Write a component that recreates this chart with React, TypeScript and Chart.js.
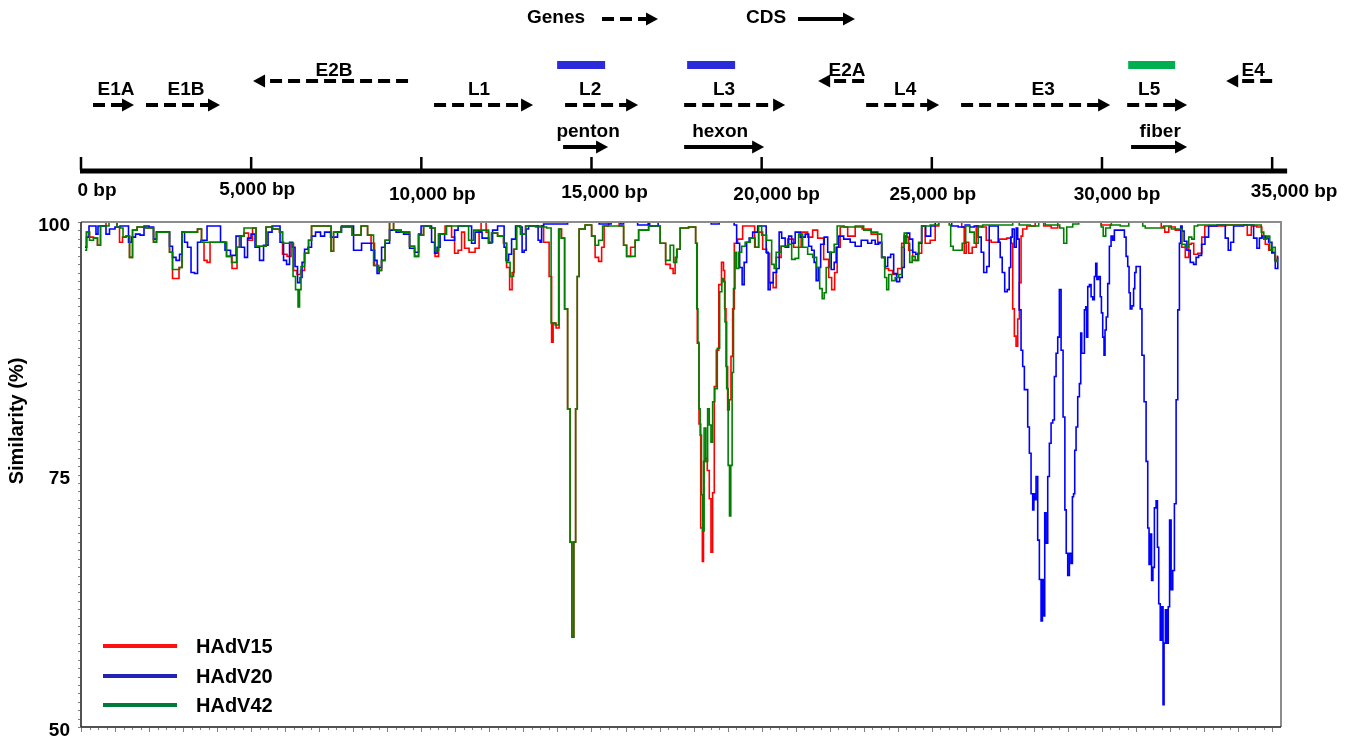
import React, { useEffect, useRef } from 'react';
import { Chart, registerables } from 'chart.js';

Chart.register(...registerables);

// ---------- data (window position in bp, similarity %) ----------
const hadv15: [number, number][] = [
  [118, 97.5], [206, 99.0], [294, 98.5], [441, 98.4], [529, 97.7], [617, 99.6], [852, 100], [1029, 100],
  [1087, 99.5], [1176, 98.0], [1264, 98.5], [1381, 98.6], [1470, 96.5], [1558, 99.2], [1734, 99.5], [2087, 99.4],
  [2175, 98.0], [2263, 99.0], [2557, 99.0], [2645, 97.0], [2733, 94.4], [2821, 94.4], [2939, 95.5], [2998, 99.0],
  [3350, 99.0], [3497, 99.3], [3586, 98.0], [3644, 96.2], [3762, 96.0], [3821, 98.0], [4232, 98.0], [4320, 96.6],
  [4555, 95.4], [4614, 97.5], [4702, 98.6], [4879, 98.9], [4967, 98.2], [5114, 99.4], [5173, 97.6], [5408, 97.6],
  [5467, 99.5], [5790, 99.3], [5878, 99.0], [5966, 96.8], [6143, 96.6], [6201, 97.9], [6289, 95.2], [6407, 94.8],
  [6495, 95.2], [6642, 96.9], [6730, 98.2], [6818, 99.6], [7318, 99.6], [7377, 97.1], [7465, 99.0], [7818, 99.5],
  [8112, 98.7], [8347, 99.6], [8494, 98.7], [8552, 97.9], [8699, 95.7], [8788, 95.2], [8876, 96.2], [8993, 98.2],
  [9140, 100], [9228, 99.2], [9581, 99.0], [9728, 97.6], [9875, 96.6], [9963, 98.7], [10169, 99.6], [10345, 99.4],
  [10463, 96.6], [10551, 98.8], [10845, 99.6], [10933, 98.5], [11021, 96.9], [11139, 97.2], [11227, 99.0], [11315, 97.4],
  [11491, 97.0], [11668, 97.4], [11727, 99.0], [11785, 100], [11874, 100], [11932, 99.0], [12021, 97.9], [12109, 98.9],
  [12373, 98.6], [12461, 97.9], [12550, 95.5], [12638, 93.3], [12696, 95.0], [12755, 97.3], [12843, 99.6], [12990, 98.8],
  [13137, 99.6], [13490, 99.6], [13696, 98.0], [13813, 94.6], [13843, 88.1], [13901, 90.0], [14019, 89.5], [14078, 99.3],
  [14166, 98.4], [14254, 91.4], [14342, 81.5], [14401, 68.3], [14451, 58.9], [14510, 68.3], [14557, 81.5], [14607, 94.6],
  [14666, 99.3], [14960, 99.7], [15048, 98.6], [15165, 96.5], [15253, 96.1], [15342, 97.5], [15400, 99.6], [15606, 100],
  [15724, 100], [15900, 99.6], [15988, 97.7], [16076, 96.6], [16223, 97.5], [16341, 98.2], [16429, 99.2], [16929, 99.6],
  [17105, 97.9], [17252, 95.8], [17369, 95.4], [17428, 94.9], [17487, 96.5], [17546, 97.3], [17663, 99.4], [18045, 99.5],
  [18075, 97.9], [18142, 88.0], [18177, 80.0], [18242, 69.7], [18272, 66.4], [18310, 76.3], [18369, 76.6], [18436, 75.4],
  [18486, 72.6], [18536, 67.3], [18583, 73.2], [18633, 83.7], [18701, 87.3], [18780, 93.8], [18859, 96.0], [18898, 95.2],
  [18927, 91.4], [18977, 85.7], [19024, 81.4], [19074, 82.4], [19124, 86.7], [19171, 91.4], [19221, 97.9], [19368, 98.3],
  [19515, 99.6], [19721, 99.6], [19868, 97.5], [19956, 99.0], [20103, 97.3], [20191, 96.9], [20279, 94.0], [20397, 93.5],
  [20455, 96.5], [20691, 97.6], [20838, 98.3], [21043, 97.5], [21278, 99.0], [21425, 98.5], [21572, 99.2], [21719, 98.4],
  [21925, 96.3], [22013, 94.5], [22101, 93.3], [22189, 95.0], [22248, 97.5], [22366, 99.5], [22689, 98.6], [22807, 99.5],
  [23101, 99.3], [23336, 98.8], [23483, 97.9], [23571, 96.5], [23688, 95.4], [23777, 95.2], [23923, 94.8], [24070, 95.4],
  [24159, 97.9], [24276, 98.5], [24364, 97.2], [24511, 96.2], [24658, 96.9], [24746, 99.6], [24864, 97.9], [25040, 98.2],
  [25158, 99.6], [25246, 100], [25834, 100], [25922, 99.5], [25981, 96.9], [26040, 98.0], [26128, 96.9], [26245, 97.5],
  [26363, 99.6], [26569, 99.5], [26627, 98.2], [26862, 98.0], [27098, 98.3], [27303, 98.4], [27353, 97.9], [27400, 91.4],
  [27450, 88.7], [27500, 87.7], [27547, 90.4], [27597, 94.0], [27647, 98.6], [27694, 99.3], [27891, 99.6], [28185, 100],
  [28391, 99.6], [28626, 99.4], [28773, 100], [29950, 100], [30000, 99.7], [30250, 99.7], [30300, 100], [31712, 100],
  [31771, 99.5], [31918, 99.0], [32006, 99.5], [32300, 99.2], [32388, 97.5], [32505, 96.5], [32594, 97.8], [32652, 97.9],
  [32740, 96.8], [32887, 96.9], [32976, 98.5], [33064, 99.6], [34210, 99.7], [34328, 98.7], [34445, 99.6], [34651, 99.5],
  [34739, 98.5], [34857, 97.8], [34945, 97.2], [35033, 96.9], [35121, 96.2], [35180, 96.6],
];

const hadv20: [number, number][] = [
  [118, 97.5], [206, 98.5], [265, 99.6], [411, 99.6], [470, 98.8], [529, 99.6], [705, 99.6], [764, 98.8],
  [911, 99.3], [1087, 99.5], [1205, 99.6], [1352, 99.6], [1440, 98.0], [1528, 98.5], [1675, 98.8], [1793, 98.7],
  [1910, 99.6], [2087, 99.5], [2175, 98.3], [2263, 99.0], [2557, 99.0], [2645, 97.6], [2733, 96.5], [2851, 96.2],
  [2939, 96.8], [2998, 99.0], [3086, 98.0], [3174, 97.5], [3292, 95.0], [3380, 94.9], [3468, 98.0], [3586, 98.2],
  [3821, 99.6], [4056, 99.6], [4144, 98.0], [4320, 97.2], [4467, 96.7], [4644, 98.6], [4761, 97.5], [4849, 96.5],
  [4938, 98.4], [5055, 98.8], [5173, 97.5], [5320, 96.2], [5408, 97.7], [5584, 99.0], [5643, 99.6], [5790, 99.6],
  [5907, 98.0], [5996, 96.2], [6084, 95.8], [6172, 98.0], [6260, 97.5], [6319, 95.6], [6407, 94.0], [6466, 94.5],
  [6525, 96.0], [6613, 97.3], [6730, 97.5], [6818, 98.6], [6965, 99.0], [7112, 98.6], [7201, 99.0], [7465, 98.5],
  [7612, 99.0], [7700, 99.6], [7965, 99.6], [8053, 97.2], [8200, 97.2], [8288, 97.9], [8464, 97.9], [8582, 97.2],
  [8670, 96.2], [8729, 94.9], [8788, 95.5], [8876, 97.5], [8993, 97.9], [9140, 99.2], [9375, 99.0], [9581, 98.8],
  [9728, 97.4], [9875, 97.0], [9963, 98.8], [10022, 99.6], [10257, 99.6], [10345, 98.0], [10433, 96.9], [10492, 97.5],
  [10610, 98.8], [10757, 98.2], [10933, 98.2], [11021, 99.2], [11139, 99.6], [11433, 99.6], [11521, 97.9], [11638, 99.0],
  [11932, 98.4], [12021, 98.0], [12167, 99.2], [12314, 99.6], [12403, 99.6], [12461, 97.5], [12520, 96.2], [12608, 96.8],
  [12696, 98.3], [12843, 99.6], [12932, 99.5], [12990, 97.0], [13049, 97.2], [13108, 99.3], [13196, 99.6], [13402, 99.6],
  [13461, 98.2], [13519, 98.0], [13549, 99.6], [13637, 99.8], [14284, 99.8], [14313, 100], [15195, 100], [15253, 99.8],
  [15547, 99.8], [15606, 100], [15841, 100], [15871, 99.8], [15929, 99.8], [15959, 100], [16341, 100], [16370, 99.7],
  [16635, 99.7], [16694, 100], [16723, 99.6], [16929, 99.6], [16987, 100], [18486, 100], [18545, 99.8], [18721, 99.8],
  [18780, 100], [19162, 100], [19221, 99.7], [19309, 97.9], [19397, 95.5], [19456, 93.8], [19515, 96.0], [19603, 98.0],
  [19662, 98.4], [19809, 99.0], [19956, 99.6], [20103, 99.6], [20162, 97.0], [20220, 93.3], [20279, 94.0], [20397, 95.0],
  [20485, 95.4], [20543, 99.0], [20632, 98.4], [20749, 97.5], [20838, 98.6], [20926, 97.9], [21043, 99.0], [21220, 98.5],
  [21337, 98.8], [21425, 97.6], [21513, 97.2], [21572, 96.0], [21631, 94.2], [21690, 95.5], [21778, 97.8], [21896, 98.5],
  [21984, 97.0], [22101, 95.3], [22160, 96.0], [22219, 97.5], [22307, 98.6], [22513, 98.3], [22689, 98.0], [22807, 97.6],
  [23042, 98.2], [23189, 97.9], [23277, 98.2], [23395, 97.8], [23483, 98.0], [23571, 96.5], [23659, 95.6], [23747, 96.5],
  [23835, 96.8], [23923, 94.9], [24011, 94.1], [24100, 94.5], [24159, 95.5], [24217, 98.6], [24306, 98.9], [24394, 98.3],
  [24482, 97.0], [24570, 96.8], [24658, 97.9], [24746, 99.6], [24893, 98.6], [25040, 99.6], [25158, 100], [25540, 100],
  [25628, 99.6], [25922, 99.5], [26040, 99.7], [26186, 99.5], [26304, 99.6], [26422, 98.5], [26480, 97.0], [26569, 95.0],
  [26657, 95.6], [26716, 99.6], [26921, 99.6], [26980, 98.0], [27039, 96.5], [27098, 95.0], [27185, 93.1], [27244, 93.3],
  [27303, 95.5], [27333, 98.5], [27391, 99.3], [27450, 97.5], [27509, 99.4], [27538, 98.3], [27597, 91.3], [27647, 87.3],
  [27694, 85.7], [27744, 83.4], [27794, 83.4], [27841, 79.7], [27891, 77.1], [27941, 73.1], [27988, 71.5], [28009, 73.1],
  [28038, 72.5], [28088, 74.8], [28135, 68.5], [28185, 64.6], [28235, 60.5], [28264, 64.6], [28303, 61.0], [28332, 71.2],
  [28382, 68.2], [28429, 74.8], [28479, 78.1], [28529, 80.1], [28576, 80.4], [28626, 84.7], [28676, 87.0], [28723, 88.6],
  [28773, 93.3], [28823, 87.3], [28890, 80.7], [28929, 71.5], [28970, 67.2], [29017, 65.0], [29067, 67.2], [29116, 66.2],
  [29146, 72.8], [29184, 73.1], [29214, 77.4], [29263, 79.7], [29311, 82.7], [29361, 84.0], [29390, 89.0], [29419, 87.0],
  [29458, 87.0], [29508, 91.3], [29537, 91.6], [29558, 88.6], [29605, 93.6], [29655, 93.8], [29704, 92.6], [29751, 92.3],
  [29801, 94.6], [29831, 95.9], [29869, 94.3], [29928, 94.6], [29969, 92.6], [29998, 91.0], [30045, 88.6], [30075, 86.8],
  [30104, 89.3], [30145, 90.6], [30192, 93.9], [30242, 97.6], [30292, 98.6], [30339, 98.2], [30389, 99.2], [30633, 99.2],
  [30683, 98.5], [30733, 96.6], [30780, 95.6], [30810, 93.0], [30850, 91.4], [30909, 91.7], [30948, 93.4], [30977, 95.0],
  [31027, 95.6], [31103, 95.6], [31145, 91.4], [31203, 86.8], [31271, 82.2], [31321, 76.3], [31368, 69.7], [31397, 66.1],
  [31438, 69.1], [31477, 64.5], [31515, 65.8], [31565, 71.7], [31615, 72.4], [31644, 67.8], [31691, 62.2], [31732, 58.6],
  [31779, 61.9], [31809, 52.2], [31838, 58.3], [31888, 61.6], [31926, 58.3], [31967, 61.9], [32006, 70.5], [32056, 63.6],
  [32103, 65.5], [32153, 72.1], [32203, 82.4], [32250, 91.3], [32300, 97.9], [32329, 99.6], [32379, 99.1], [32447, 98.1],
  [32544, 97.2], [32643, 96.0], [32740, 95.8], [32790, 96.5], [32887, 96.7], [32967, 97.8], [33085, 98.5], [33181, 99.6],
  [33572, 99.7], [33672, 98.4], [33747, 97.2], [33819, 98.0], [33916, 99.6], [34407, 99.7], [34504, 98.4], [34600, 97.4],
  [34651, 98.4], [34749, 98.6], [34848, 98.4], [34945, 98.0], [35042, 97.0], [35142, 95.4], [35189, 96.5],
];

const hadv42: [number, number][] = [
  [118, 97.2], [206, 99.0], [294, 98.2], [441, 98.4], [529, 97.7], [617, 99.6], [794, 99.6], [852, 100],
  [1029, 100], [1087, 99.5], [1205, 99.4], [1264, 98.5], [1381, 98.6], [1470, 96.5], [1558, 99.2], [1734, 99.5],
  [2087, 99.4], [2175, 98.0], [2263, 99.0], [2557, 99.0], [2645, 97.0], [2733, 95.3], [2851, 95.3], [2939, 95.5],
  [2998, 99.0], [3350, 99.0], [3497, 99.3], [3586, 98.0], [4232, 98.0], [4320, 96.6], [4526, 96.0], [4614, 97.5],
  [4702, 98.6], [4879, 99.4], [5114, 99.4], [5173, 97.6], [5408, 97.6], [5467, 99.5], [5790, 99.3], [5878, 99.0],
  [5966, 97.9], [6201, 97.9], [6260, 94.6], [6348, 93.3], [6407, 91.6], [6436, 93.3], [6495, 95.6], [6642, 96.9],
  [6730, 98.2], [6818, 99.6], [7318, 99.6], [7377, 97.1], [7465, 99.0], [7818, 99.5], [8112, 98.7], [8347, 99.6],
  [8494, 98.7], [8699, 95.7], [8788, 95.2], [8876, 96.2], [8993, 98.2], [9140, 100], [9228, 99.2], [9581, 99.0],
  [9728, 97.6], [9875, 96.6], [9963, 98.7], [10169, 99.6], [10345, 99.4], [10463, 97.2], [10551, 98.8], [10933, 99.6],
  [11345, 99.6], [11433, 98.2], [11638, 99.2], [11932, 99.2], [12021, 97.9], [12109, 98.9], [12373, 98.6], [12461, 97.9],
  [12550, 96.0], [12667, 94.6], [12755, 97.3], [12843, 99.6], [12990, 98.8], [13137, 99.6], [13578, 99.5], [13784, 99.4],
  [13843, 90.0], [14019, 89.8], [14048, 99.3], [14166, 98.4], [14254, 91.4], [14342, 81.5], [14401, 68.3], [14451, 58.9],
  [14510, 68.3], [14557, 81.5], [14607, 94.6], [14666, 99.3], [14960, 99.7], [15048, 98.6], [15165, 97.7], [15253, 98.2],
  [15400, 99.6], [15900, 99.6], [15988, 97.7], [16076, 96.6], [16223, 96.6], [16341, 98.2], [16429, 99.2], [16929, 99.6],
  [17105, 97.9], [17252, 96.2], [17369, 97.7], [17458, 96.0], [17546, 97.3], [17663, 99.4], [18045, 99.5], [18075, 97.9],
  [18113, 91.4], [18142, 88.1], [18172, 81.5], [18213, 78.9], [18251, 73.0], [18289, 69.4], [18330, 79.6], [18389, 76.3],
  [18436, 81.5], [18486, 79.9], [18536, 78.2], [18583, 82.2], [18663, 83.5], [18730, 87.5], [18801, 93.1], [18859, 94.4],
  [18898, 94.1], [18948, 90.1], [18995, 83.5], [19036, 75.9], [19074, 70.9], [19112, 75.9], [19153, 85.1], [19192, 93.4],
  [19242, 97.0], [19289, 95.4], [19368, 97.0], [19456, 97.6], [19574, 98.0], [19750, 98.4], [19868, 97.5], [19956, 99.6],
  [20044, 98.7], [20250, 98.2], [20338, 95.8], [20397, 95.4], [20455, 97.0], [20691, 97.6], [20838, 97.8], [20926, 96.3],
  [21043, 96.4], [21131, 98.8], [21278, 97.5], [21425, 96.8], [21572, 96.5], [21660, 95.5], [21749, 93.4], [21807, 92.4],
  [21866, 93.0], [21925, 95.5], [22072, 97.0], [22189, 97.8], [22248, 99.6], [22601, 99.5], [22895, 99.6], [23101, 99.2],
  [23336, 99.0], [23483, 98.8], [23571, 96.5], [23659, 94.5], [23688, 93.3], [23777, 94.8], [23865, 94.2], [23982, 94.5],
  [24070, 94.8], [24159, 97.5], [24217, 98.9], [24306, 97.9], [24394, 96.0], [24452, 96.6], [24570, 96.2], [24658, 98.0],
  [24746, 99.6], [25158, 99.7], [25246, 100], [25481, 100], [25540, 99.7], [25569, 97.6], [25687, 97.2], [25834, 97.2],
  [25951, 97.9], [26040, 99.6], [26186, 99.0], [26304, 97.9], [26422, 99.5], [26569, 99.7], [27303, 99.7], [27450, 100],
  [27685, 99.7], [28097, 99.6], [28185, 100], [28479, 99.7], [28685, 99.7], [28832, 99.4], [28920, 97.9], [29008, 99.5],
  [29272, 99.8], [29361, 100], [29948, 100], [30007, 99.5], [30066, 98.6], [30154, 99.4], [30330, 99.7], [30742, 99.6],
  [30830, 100], [31183, 100], [31212, 99.6], [31330, 99.4], [31712, 99.4], [31918, 99.6], [32153, 99.3], [32300, 99.3],
  [32388, 97.8], [32505, 97.5], [32594, 98.5], [32682, 98.3], [32740, 99.6], [32887, 99.7], [34651, 99.7], [34710, 99.0],
  [34798, 98.3], [34886, 98.6], [34974, 97.2], [35062, 97.5], [35121, 96.1], [35180, 96.3],
];

const seriesNames = ['HAdV15', 'HAdV20', 'HAdV42'];
const yTickValues = [50, 75, 100];

// genome map
const genomeTicks = [0, 5000, 10000, 15000, 20000, 25000, 30000, 35000];
const genomeTickLabels = ['0 bp', '5,000 bp', '10,000 bp', '15,000 bp', '20,000 bp', '25,000 bp', '30,000 bp', '35,000 bp'];
const geneNames = ['E1A', 'E1B', 'E2B', 'L1', 'L2', 'L3', 'E2A', 'L4', 'E3', 'L5', 'E4'];
const geneStarts = [353, 1910, 5055, 10374, 14224, 17722, 21660, 23070, 25860, 30740, 33650];
const geneEnds = [1558, 4085, 9610, 13284, 16370, 20690, 23010, 25215, 30240, 32500, 35000];
const geneStrands = [1, 1, -1, 1, 1, 1, -1, 1, 1, 1, -1];
const geneLabelAt = [1030, 3085, 7435, 11695, 14960, 18895, 22510, 24215, 28270, 31385, 34440];
const cdsNames = ['penton', 'hexon', 'fiber'];
const cdsStarts = [14165, 17722, 30855];
const cdsEnds = [15487, 20073, 32500];
const cdsLabelAt = [14900, 18780, 31710];
const regionStarts = [13990, 17810, 30770];
const regionEnds = [15400, 19220, 32150];

// ---------- styles ----------
const FONT = "'Liberation Sans', Arial, Helvetica, sans-serif";
const lineColors = ['#FF0000', '#0000FF', '#008000'];
const legendColors = ['#FF1010', '#2424B4', '#007A3A'];
const regionColors = ['#2B2BDB', '#2B2BDB', '#00B050'];

function drawArrow(ctx: CanvasRenderingContext2D, xa: number, xb: number, y: number, dir: number, dashed: boolean) {
  const head = 12;
  const half = 6.5;
  ctx.save();
  ctx.strokeStyle = '#000';
  ctx.fillStyle = '#000';
  ctx.lineWidth = 4;
  ctx.lineCap = 'butt';
  ctx.setLineDash(dashed ? [12, 6] : []);
  ctx.beginPath();
  if (dir > 0) {
    ctx.moveTo(xa, y);
    ctx.lineTo(xb - head + 1, y);
  } else {
    ctx.moveTo(xb, y);
    ctx.lineTo(xa + head - 1, y);
  }
  ctx.stroke();
  ctx.setLineDash([]);
  ctx.beginPath();
  if (dir > 0) {
    ctx.moveTo(xb, y);
    ctx.lineTo(xb - head, y - half);
    ctx.lineTo(xb - head, y + half);
  } else {
    ctx.moveTo(xa, y);
    ctx.lineTo(xa + head, y - half);
    ctx.lineTo(xa + head, y + half);
  }
  ctx.closePath();
  ctx.fill();
  ctx.restore();
}

const framePlugin = {
  id: 'frameTicks',
  afterDatasetsDraw(chart: any) {
    const ctx: CanvasRenderingContext2D = chart.ctx;
    const { left, right, top, bottom } = chart.chartArea;
    const xs = chart.scales.x;
    const ys = chart.scales.y;
    ctx.save();
    ctx.strokeStyle = '#8c8c8c';
    ctx.lineWidth = 2;
    ctx.beginPath();
    ctx.moveTo(left, top);
    ctx.lineTo(right, top);
    ctx.lineTo(right, bottom);
    ctx.stroke();
    ctx.strokeStyle = '#1a1a1a';
    ctx.lineWidth = 1.5;
    ctx.beginPath();
    ctx.moveTo(left, top);
    ctx.lineTo(left, bottom);
    ctx.lineTo(right, bottom);
    ctx.stroke();
    ctx.strokeStyle = '#808080';
    ctx.lineWidth = 1;
    ctx.beginPath();
    for (let bp = 0; bp <= 35000; bp += 250) {
      const x = Math.round(xs.getPixelForValue(bp)) + 0.5;
      const len = bp % 1000 === 0 ? 4 : 2;
      ctx.moveTo(x, bottom + 1);
      ctx.lineTo(x, bottom + 1 + len);
    }
    for (let k = 0; k <= 60; k++) {
      const y = Math.round(ys.getPixelForValue(50 + (k * 50) / 60)) + 0.5;
      ctx.moveTo(left - 1, y);
      ctx.lineTo(left - 3, y);
    }
    ctx.stroke();
    ctx.restore();
  },
};

const annotationPlugin = {
  id: 'geneMapAndLegend',
  afterDraw(chart: any) {
    const ctx: CanvasRenderingContext2D = chart.ctx;
    const xs = chart.scales.x;
    const px = (bp: number) => xs.getPixelForValue(bp);
    ctx.save();
    ctx.fillStyle = '#000';
    ctx.textBaseline = 'middle';
    ctx.textAlign = 'center';
    ctx.font = `bold 19px ${FONT}`;

    ctx.fillText('Genes', 556, 18);
    drawArrow(ctx, 602, 658, 19, 1, true);
    ctx.fillText('CDS', 766, 18);
    drawArrow(ctx, 798, 855, 19, 1, false);

    for (let i = 0; i < regionStarts.length; i++) {
      ctx.fillStyle = regionColors[i];
      const a = px(regionStarts[i]);
      ctx.fillRect(a, 61, px(regionEnds[i]) - a, 8);
    }
    ctx.fillStyle = '#000';

    for (let i = 0; i < geneNames.length; i++) {
      const rev = geneStrands[i] < 0;
      drawArrow(ctx, px(geneStarts[i]), px(geneEnds[i]), rev ? 81 : 105, geneStrands[i], true);
      ctx.fillText(geneNames[i], px(geneLabelAt[i]), rev ? 71 : 90);
    }
    for (let i = 0; i < cdsNames.length; i++) {
      drawArrow(ctx, px(cdsStarts[i]), px(cdsEnds[i]), 147, 1, false);
      ctx.fillText(cdsNames[i], px(cdsLabelAt[i]), 132);
    }

    const x0 = px(0);
    ctx.fillRect(x0 - 1, 168.5, px(35440) - x0 + 1, 5);
    const labelDx = [16, 6, 11, 13, 15, 1, 15, 22];
    const labelY = [191, 190, 195, 193, 195, 195, 195, 192];
    for (let i = 0; i < genomeTicks.length; i++) {
      const x = px(genomeTicks[i]);
      ctx.fillRect(x - 1.25, 157, 2.5, 13);
      ctx.fillText(genomeTickLabels[i], x + labelDx[i], labelY[i]);
    }

    ctx.save();
    ctx.translate(17, 421);
    ctx.rotate(-Math.PI / 2);
    ctx.font = `bold 20px ${FONT}`;
    ctx.fillText('Similarity (%)', 0, 0);
    ctx.restore();

    ctx.font = `bold 20px ${FONT}`;
    ctx.textAlign = 'left';
    const legendY = [646, 676, 705];
    for (let i = 0; i < seriesNames.length; i++) {
      ctx.strokeStyle = legendColors[i];
      ctx.lineWidth = 4;
      ctx.beginPath();
      ctx.moveTo(103, legendY[i]);
      ctx.lineTo(177, legendY[i]);
      ctx.stroke();
      ctx.fillStyle = '#000';
      ctx.fillText(seriesNames[i], 196, legendY[i] + 1);
    }
    ctx.restore();
  },
};

export default function App() {
  const canvasRef = useRef<HTMLCanvasElement | null>(null);

  useEffect(() => {
    const canvas = canvasRef.current;
    if (!canvas) return;
    const series = [hadv15, hadv20, hadv42];
    const chart = new Chart(canvas, {
      type: 'line',
      data: {
        datasets: series.map((s, i) => ({
          label: seriesNames[i],
          data: s.map(([x, y]) => ({ x, y })),
          borderColor: lineColors[i],
          backgroundColor: lineColors[i],
          borderWidth: 1.6,
          pointRadius: 0,
          fill: false,
          tension: 0,
          stepped: 'middle',
          order: [2, 1, 0][i],
        })),
      },
      options: {
        responsive: false,
        animation: false,
        devicePixelRatio: 1,
        layout: { padding: { top: 222, right: 77, bottom: 16, left: 0 } },
        plugins: {
          legend: { display: false },
          tooltip: { enabled: false },
          title: { display: false },
        },
        events: [],
        scales: {
          x: {
            type: 'linear',
            min: 0,
            max: 35260,
            display: false,
          },
          y: {
            type: 'linear',
            min: 50,
            max: 100,
            afterBuildTicks: (scale: any) => {
              scale.ticks = yTickValues.map((v) => ({ value: v }));
            },
            afterFit: (scale: any) => {
              scale.width = 81;
              scale.paddingTop = 0;
              scale.paddingBottom = 0;
            },
            grid: { display: false, drawTicks: false },
            border: { display: false },
            ticks: {
              color: '#000',
              padding: 11,
              labelOffset: 4,
              font: { family: FONT, size: 19, weight: 'bold' },
            },
          },
        },
      },
      plugins: [framePlugin, annotationPlugin],
    } as any);
    return () => chart.destroy();
  }, []);

  return (
    <div style={{ position: 'fixed', left: 0, top: 0, width: 1358, height: 743, background: '#fff' }}>
      <canvas ref={canvasRef} width={1358} height={743} style={{ display: 'block', width: 1358, height: 743 }} />
    </div>
  );
}
